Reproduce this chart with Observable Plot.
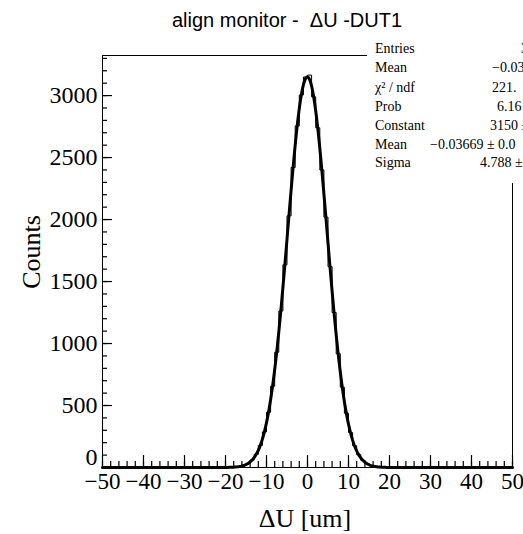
<!DOCTYPE html>
<html><head><meta charset="utf-8">
<script src="https://cdn.jsdelivr.net/npm/d3@7"></script>
<script src="https://cdn.jsdelivr.net/npm/@observablehq/plot@0.6"></script>
<style>body{margin:0;background:#fff;} #chart svg{display:block;}</style>
</head><body><div id="chart"></div>
<script>
// ---- data ----
const title = "align monitor -  \u0394U -DUT1";
const xLabel = "\u0394U [um]";
const yLabel = "Counts";
const xRange = [-50, 50];
const binWidth = 1;
// counts per 1-um bin, bins from -50 to 50
const counts = [
  0,0,0,0,0,0,0,0,0,0, 0,0,0,0,0,0,0,0,0,0, 0,0,0,0,0,0,0,0,0,0,
  1,2,4,8,17,33,60,106,178,287,445,655,930,1262,1635,2030,2420,2755,3005,3150,
  3165,2990,2740,2400,2020,1620,1250,918,648,438,282,175,103,58,31,16,8,4,2,1,
  0,0,0,0,0,0,0,0,0,0, 0,0,0,0,0,0,0,0,0,0, 0,0,0,0,0,0,0,0,0,0
];
const xMajorTicks = [-50,-40,-30,-20,-10,0,10,20,30,40,50];
const yMajorTicks = [0,500,1000,1500,2000,2500,3000];
const statNames = ["Entries","Mean","\u03c7\u00b2 / ndf","Prob","Constant","Mean","Sigma"];
const statValues = ["3","\u22120.03","221.","6.16","3150 \u00b1","\u22120.03669 \u00b1 0.0","4.788 \u00b1"];
const fitConstant = 3150, fitMean = -0.03669, fitSigma = 4.788;

// ---- build tables ----
const yMax = 1.05 * d3.max(counts);
const histPoints = counts.map((c, i) => ({x: xRange[0] + i * binWidth, y: c}));
histPoints.push({x: xRange[1], y: counts[counts.length - 1]});
const fitPoints = d3.range(xRange[0], xRange[1] + 1e-9, 0.2).map(x => ({
  x, y: fitConstant * Math.exp(-0.5 * ((x - fitMean) / fitSigma) ** 2)
}));
const xMinorTicks = d3.range(xRange[0], xRange[1] + 0.1, 2);
const yMinorTicks = d3.range(0, yMax, 100);
const fmt = d => (d < 0 ? "\u2212" : "") + Math.abs(d);

const W = 523, H = 534;
const mL = 102, mR = 11, mT = 55, mB = 67;
const frameW = W - mL - mR, frameH = H - mT - mB;
// tick lengths (pixels) converted to data units for inward tick rules
const pxY = yMax / frameH, pxX = (xRange[1] - xRange[0]) / frameW;
const tickStroke = "black";
const chart = Plot.plot({
  width: W, height: H,
  marginLeft: mL, marginRight: mR, marginTop: mT, marginBottom: mB,
  style: {fontFamily: "'Liberation Serif', 'Times New Roman', serif", background: "white", color: "black", overflow: "hidden"},
  x: {domain: xRange, label: null},
  y: {domain: [0, yMax], label: null},
  marks: [
    Plot.ruleX(xMinorTicks, {x: d => d, y1: 0, y2: 6 * pxY, stroke: tickStroke, strokeWidth: 1.2}),
    Plot.ruleX(xMajorTicks, {x: d => d, y1: 0, y2: 12 * pxY, stroke: tickStroke, strokeWidth: 1.2}),
    Plot.axisX({ticks: xMajorTicks, tickSize: 0, tickPadding: 5, tickFormat: fmt, fontSize: 23, label: null}),
    Plot.ruleY(yMinorTicks, {y: d => d, x1: xRange[0], x2: xRange[0] + 5 * pxX, stroke: tickStroke, strokeWidth: 1.2}),
    Plot.ruleY(yMajorTicks, {y: d => d, x1: xRange[0], x2: xRange[0] + 10 * pxX, stroke: tickStroke, strokeWidth: 1.2}),
    Plot.axisY({ticks: yMajorTicks.filter(d => d > 0), tickSize: 0, tickPadding: 5, tickFormat: d => String(d), fontSize: 24, label: null}),
    Plot.axisY({ticks: [0], tickSize: 0, tickPadding: 5, tickFormat: d => String(d), fontSize: 24, dy: -10, label: null}),
    Plot.line(histPoints, {x: "x", y: "y", curve: "step-after", stroke: "black", strokeWidth: 1}),
    Plot.line(fitPoints, {x: "x", y: "y", stroke: "black", strokeWidth: 3}),
    Plot.frame({stroke: "black", strokeWidth: 1})
  ]
});
document.getElementById("chart").appendChild(chart);

const svg = d3.select(chart);
svg.append("text").text(title)
  .attr("x", 287).attr("y", 27).attr("text-anchor", "middle")
  .attr("font-family", "'Liberation Sans', Arial, sans-serif").attr("font-size", 20).attr("fill", "black");
svg.append("text").text(xLabel)
  .attr("x", 305).attr("y", 527).attr("text-anchor", "middle")
  .attr("font-size", 26).attr("fill", "black");
svg.append("text").text(yLabel)
  .attr("transform", "translate(40,252) rotate(-90)").attr("text-anchor", "middle")
  .attr("font-size", 26).attr("fill", "black");
// stats box
const box = svg.append("g").attr("text-anchor", "start");
box.append("rect").attr("x", 367).attr("y", 33).attr("width", 170).attr("height", 150)
  .attr("fill", "white").attr("stroke", "none");
const baselines = [53, 72, 92, 111, 130, 149, 167];
const valueX = [521, 492, 492, 497, 490, 430, 480];
statNames.forEach((n, i) => {
  box.append("text").text(n).attr("x", 375).attr("y", baselines[i])
    .attr("text-anchor", "start").attr("font-size", 14).attr("fill", "black");
  box.append("text").text(statValues[i]).attr("x", valueX[i]).attr("y", baselines[i])
    .attr("text-anchor", "start").attr("font-size", 14).attr("fill", "black");
});
</script>
</body></html>
